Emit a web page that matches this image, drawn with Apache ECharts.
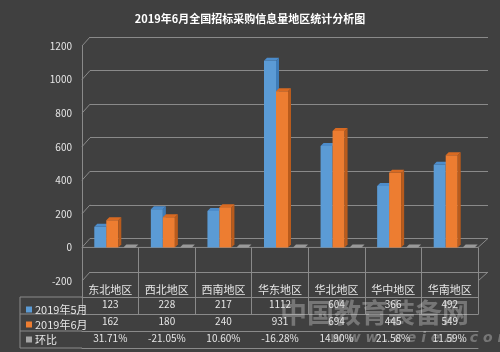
<!DOCTYPE html>
<html>
<head>
<meta charset="utf-8">
<script src="https://cdn.jsdelivr.net/npm/echarts@6/dist/echarts.min.js"></script>
<style>
html, body { margin: 0; padding: 0; background: #404040; }
#chart { width: 500px; height: 352px; }
</style>
</head>
<body>
<div id="chart"></div>
<script>
var regions = ['东北地区', '西北地区', '西南地区', '华东地区', '华北地区', '华中地区', '华南地区'];
var may = [123, 228, 217, 1112, 604, 366, 492];
var june = [162, 180, 240, 931, 694, 445, 549];
var ratio = [0.3171, -0.2105, 0.1060, -0.1628, 0.1490, 0.2158, 0.1159];
var ratioText = ['31.71%', '-21.05%', '10.60%', '-16.28%', '14.90%', '21.58%', '11.59%'];
var yTicks = [-200, 0, 200, 400, 600, 800, 1000, 1200];

var font = '"Noto Sans CJK SC", "Noto Sans", sans-serif';
var lineCol = '#8a8a8a';
var labelCol = '#e6e6e6';

// 3D-ish column: front face + side + top
function bar3d(offset, front, side, top) {
	return function (params, api) {
		var base = api.coord([api.value(0), 0]);
		var end = api.coord([api.value(0), api.value(1)]);
		var x0 = base[0] + offset, w = 12, d = 3;
		var yb = base[1], yt = Math.min(end[1], yb);
		return {
			type: 'group',
			children: [
				{ type: 'rect', shape: { x: x0, y: yt, width: w, height: yb - yt }, style: { fill: front } },
				{ type: 'polygon', shape: { points: [[x0 + w, yt], [x0 + w + d, yt - d], [x0 + w + d, yb - d], [x0 + w, yb]] }, style: { fill: side } },
				{ type: 'polygon', shape: { points: [[x0, yt], [x0 + d, yt - d], [x0 + w + d, yt - d], [x0 + w, yt]] }, style: { fill: top } }
			]
		};
	};
}

function pairs(arr) {
	return arr.map(function (v, i) { return [i, v]; });
}

var chart = echarts.init(document.getElementById('chart'));

var rowAxis = function (offset, values) {
	return {
		type: 'category', gridIndex: 0, data: regions, position: 'bottom', offset: offset,
		axisLine: { show: true, lineStyle: { color: lineCol } },
		axisTick: { show: false },
		axisLabel: {
			show: !!values, interval: 0, margin: 2, color: labelCol, fontSize: 10, fontFamily: font,
			formatter: function (v, i) { return values ? String(values[i]) : ''; }
		}
	};
};

chart.setOption({
	backgroundColor: '#404040',
	animation: false,
	title: {
		text: '2019年6月全国招标采购信息量地区统计分析图',
		left: 'center', top: 8,
		textStyle: { color: '#ffffff', fontSize: 11, fontWeight: 'bold', fontFamily: font }
	},
	legend: {
		orient: 'vertical', left: 21, top: 299, itemGap: 4,
		icon: 'rect', itemWidth: 6, itemHeight: 6,
		textStyle: { color: labelCol, fontSize: 11, fontFamily: font, padding: [0, 0, 0, -2] },
		data: ['2019年5月', '2019年6月', '环比']
	},
	grid: [
		{ left: 82, right: 22, top: 46, height: 235 },
		{ left: 90, right: 12, top: 37, height: 235 }
	],
	xAxis: [
		{
			type: 'category', gridIndex: 0, data: regions, position: 'bottom',
			axisLine: { show: false },
			axisTick: { show: true, interval: 0, length: 67, lineStyle: { color: lineCol } },
			axisLabel: { interval: 0, margin: 3, color: labelCol, fontSize: 11, fontFamily: font }
		},
		rowAxis(16, may),
		rowAxis(33, june),
		rowAxis(50, ratioText),
		rowAxis(67, null),
		{ type: 'value', gridIndex: 1, show: false, min: 0, max: 1 }
	],
	yAxis: [
		{
			type: 'value', gridIndex: 0, min: -200, max: 1200, interval: 200,
			axisLine: { show: true, lineStyle: { color: lineCol } },
			axisTick: { show: false },
			splitLine: { show: false },
			axisLabel: { color: labelCol, fontSize: 10, fontFamily: font, margin: 10, formatter: function (v) { return String(v); } }
		},
		{
			type: 'value', gridIndex: 1, min: -200, max: 1200, interval: 200,
			axisLine: { show: false }, axisTick: { show: false }, axisLabel: { show: false },
			splitLine: { show: true, lineStyle: { color: lineCol, width: 1 } }
		}
	],
	series: [
		{
			name: 'frame', type: 'custom', xAxisIndex: 0, yAxisIndex: 0, silent: true,
			data: yTicks.map(function (v) { return [0, v]; }),
			renderItem: function (params, api) {
				var cs = params.coordSys;
				var y = api.coord([0, api.value(1)])[1];
				var kids = [{ type: 'line', shape: { x1: cs.x, y1: y, x2: cs.x + 8, y2: y - 9 }, style: { stroke: lineCol, lineWidth: 1 } }];
				if (api.value(1) === 0) {
					kids.push({ type: 'line', shape: { x1: cs.x, y1: y, x2: cs.x + cs.width, y2: y }, style: { stroke: lineCol, lineWidth: 1 } });
					kids.push({ type: 'line', shape: { x1: cs.x + cs.width, y1: y, x2: cs.x + cs.width + 10, y2: y - 9 }, style: { stroke: lineCol, lineWidth: 1 } });
				}
				if (api.value(1) === -200) {
					kids.push({ type: 'line', shape: { x1: cs.x + cs.width, y1: y, x2: cs.x + cs.width + 10, y2: y - 9 }, style: { stroke: lineCol, lineWidth: 1 } });
				}
				return { type: 'group', children: kids };
			}
		},
		{
			name: '2019年5月', type: 'custom', xAxisIndex: 0, yAxisIndex: 0,
			itemStyle: { color: '#5B9BD5' },
			encode: { x: 0, y: 1 },
			data: pairs(may),
			renderItem: bar3d(-16, '#5B9BD5', '#3E7CB8', '#4C8CCB')
		},
		{
			name: '2019年6月', type: 'custom', xAxisIndex: 0, yAxisIndex: 0,
			itemStyle: { color: '#ED7D31' },
			encode: { x: 0, y: 1 },
			data: pairs(june),
			renderItem: bar3d(-4, '#ED7D31', '#B95B1C', '#D86A22')
		},
		{
			name: '环比', type: 'custom', xAxisIndex: 0, yAxisIndex: 0,
			itemStyle: { color: '#A5A5A5' },
			encode: { x: 0, y: 1 },
			data: pairs(ratio),
			renderItem: bar3d(13, '#A5A5A5', '#7f7f7f', '#999999')
		}
	],
	graphic: [
		{ type: 'line', shape: { x1: 20, y1: 297, x2: 82, y2: 297 }, style: { stroke: lineCol } },
		{ type: 'line', shape: { x1: 20, y1: 314, x2: 82, y2: 314 }, style: { stroke: lineCol } },
		{ type: 'line', shape: { x1: 20, y1: 331, x2: 82, y2: 331 }, style: { stroke: lineCol } },
		{ type: 'line', shape: { x1: 20, y1: 348, x2: 82, y2: 348 }, style: { stroke: lineCol } },
		{ type: 'line', shape: { x1: 20, y1: 297, x2: 20, y2: 348 }, style: { stroke: lineCol } },
		{
			type: 'text', left: 280, top: 299, silent: true, z: 100,
			style: { text: '中国教育装备网', fill: 'rgba(220,220,220,0.35)', font: 'bold 27px "Noto Sans CJK SC"' }
		},
		{
			type: 'text', left: 330, top: 331, silent: true, z: 100,
			style: { text: 'w w w . c e i e a . c o m', fill: 'rgba(220,220,220,0.35)', font: 'italic bold 14px "DejaVu Sans"' }
		}
	]
});
</script>
</body>
</html>
